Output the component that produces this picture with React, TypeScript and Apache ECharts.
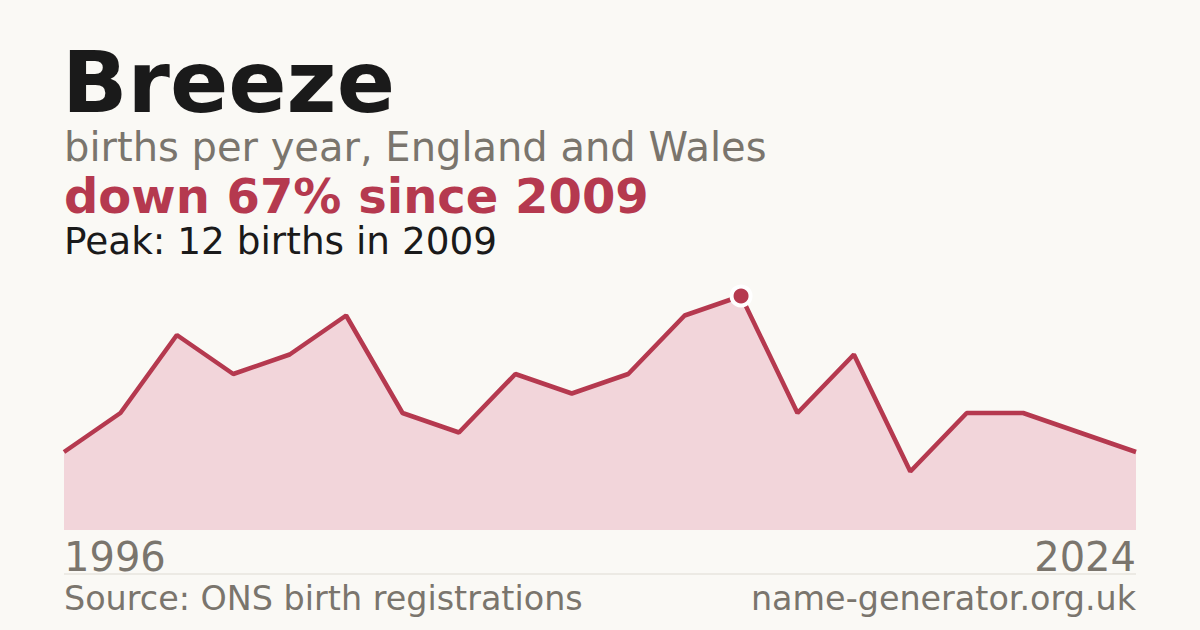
import { useRef, useEffect } from "react";
import * as echarts from "echarts";

const years = [
  "1996", "1997", "1998", "1999", "2000", "2001", "2002", "2003", "2004", "2005",
  "2006", "2008", "2009", "2012", "2014", "2016", "2018", "2020", "2022", "2024",
];
const births = [4, 6, 10, 8, 9, 11, 6, 5, 8, 7, 8, 11, 12, 6, 9, 3, 6, 6, 5, 4];

const RED = "#b5394f";
const GREY = "#7a756d";
const INK = "#1a1a1a";
const FONT = "DejaVu Sans";

const App = () => {
  const chartRef = useRef<HTMLDivElement>(null);

  useEffect(() => {
    if (!chartRef.current) return;
    const myChart = echarts.init(chartRef.current, null, { renderer: "svg" });

    const peak = Math.max(...births);
    const peakIdx = births.indexOf(peak);
    const last = years.length - 1;

    const text = (t: string, x: number, y: number, size: number, color: string, weight = "normal", align = "left") => ({
      type: "text",
      x,
      y,
      style: {
        text: t,
        fill: color,
        font: `${weight} ${size}px "${FONT}"`,
        lineHeight: Math.round(size * 0.85),
        textAlign: align,
        textVerticalAlign: "middle",
      },
    });

    myChart.setOption({
      animation: false,
      backgroundColor: "#faf9f5",
      grid: { left: 64, right: 64, top: 296, bottom: 100 },
      xAxis: {
        type: "category",
        data: years,
        boundaryGap: false,
        axisLine: { show: false },
        axisTick: { show: false },
        axisLabel: {
          interval: (i: number) => i === 0 || i === last,
          margin: 7,
          color: GREY,
          fontFamily: FONT,
          fontSize: 40,
          alignMinLabel: "left",
          alignMaxLabel: "right",
        },
      },
      yAxis: { type: "value", min: 0, max: 12, show: false, splitLine: { show: false } },
      graphic: [
        text("Breeze", 62, 82, 86, INK, "bold"),
        text("births per year, England and Wales", 64, 147, 40, GREY),
        text(`down 67% since ${years[peakIdx]}`, 64, 196, 48, RED, "bold"),
        text(`Peak: ${peak} births in ${years[peakIdx]}`, 64, 241, 37.4, INK),
        {
          type: "line",
          shape: { x1: 64, y1: 574, x2: 1136, y2: 574 },
          style: { stroke: "#dedbd3", lineWidth: 1 },
        },
        text("Source: ONS birth registrations", 64, 598, 33.4, GREY),
        text("name-generator.org.uk", 1136, 598, 33.4, GREY, "normal", "right"),
      ],
      series: [
        {
          type: "line",
          data: births,
          symbol: "none",
          lineStyle: { color: RED, width: 4.5 },
          areaStyle: { color: "#f2d5da", opacity: 1 },
        },
        {
          type: "scatter",
          data: [[peakIdx, peak]],
          symbol: "circle",
          symbolSize: 19,
          itemStyle: { color: RED, borderColor: "#ffffff", borderWidth: 4, opacity: 1 },
          z: 5,
        },
      ],
    });

    return () => {
      myChart.dispose();
    };
  }, []);

  return (
    <div
      ref={chartRef}
      style={{ position: "absolute", left: 0, top: 0, width: 1200, height: 630 }}
    ></div>
  );
};

export default App;
